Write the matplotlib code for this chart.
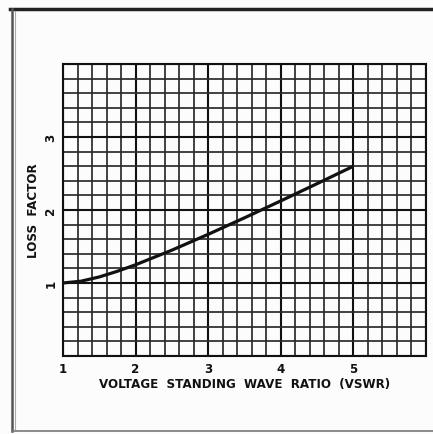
import matplotlib
matplotlib.use("Agg")
import matplotlib.pyplot as plt
import numpy as np
from matplotlib.lines import Line2D

# loss factor vs. VSWR
vswr = [1.0, 1.25, 1.5, 1.75, 2.0, 2.5, 3.0, 3.5, 4.0, 4.5, 5.0]
loss_factor = [1.0, 1.025, 1.083, 1.161, 1.25, 1.45, 1.667, 1.893, 2.125, 2.361, 2.6]

x_ticks = [1, 2, 3, 4, 5]
y_ticks = [1, 2, 3]

INK = "#111111"
W, H = 433, 435

fig = plt.figure(figsize=(W / 100, H / 100), dpi=100, facecolor="#fcfcfc")
ax = fig.add_axes([63 / W, 1 - 357 / H, (426 - 63) / W, (357 - 65) / H])
ax.set_facecolor("#fcfcfc")

ax.set_xlim(1, 6)
ax.set_ylim(0, 4)

# graph-paper grid: fifths between every whole unit
for v in np.arange(1, 6.001, 0.2):
    major = abs(v - round(v)) < 1e-6
    ax.axvline(v, color=INK if major else "#2b2b2b", lw=1.5 if major else 1.25, zorder=1)
for v in np.arange(0, 4.001, 0.2):
    major = abs(v - round(v)) < 1e-6
    ax.axhline(v, color=INK if major else "#2b2b2b", lw=1.5 if major else 1.25, zorder=1)

ax.plot(vswr, loss_factor, color=INK, lw=2.3, zorder=3, solid_capstyle="butt")

for s in ax.spines.values():
    s.set_color(INK)
    s.set_linewidth(1.5)

lab = dict(fontsize=8.6, fontweight="bold", color=INK, family="DejaVu Sans")
ax.set_xticks(x_ticks)
ax.set_xticklabels([str(t) for t in x_ticks], **lab)
ax.set_yticks(y_ticks)
ax.set_yticklabels([str(t) for t in y_ticks], rotation=90, va="center", **lab)
ax.tick_params(axis="x", length=0, pad=4)
ax.tick_params(axis="y", length=0, pad=4)

ax.set_xlabel("VOLTAGE  STANDING  WAVE  RATIO  (VSWR)", labelpad=2, **lab)
ax.set_ylabel("LOSS  FACTOR", labelpad=3, **lab)

# page border around the figure
fig.add_artist(Line2D([10 / W, 1], [1 - 10 / H] * 2, color="#222222", lw=2.5))
fig.add_artist(Line2D([12 / W] * 2, [1 - 10 / H, 1 - 432 / H], color="#555555", lw=1.8))
fig.add_artist(Line2D([15 / W] * 2, [1 - 12 / H, 1 - 430 / H], color="#aaaaaa", lw=0.8))
fig.add_artist(Line2D([12 / W, 1], [1 - 432 / H] * 2, color="#777777", lw=1.2))

fig.savefig("out.png", dpi=100, facecolor=fig.get_facecolor())
